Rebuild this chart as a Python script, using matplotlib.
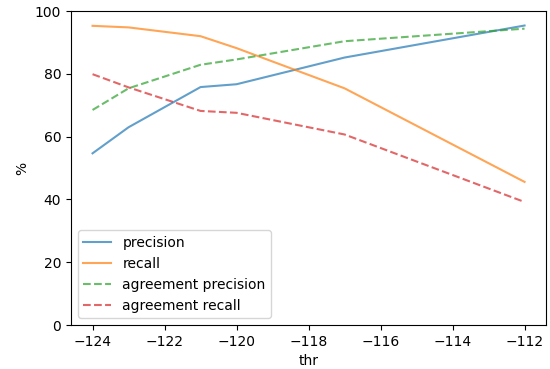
import matplotlib
matplotlib.use("Agg")
import matplotlib.pyplot as plt

thr = [-124, -123, -121, -120, -117, -112]
precision = [54.7, 63.0, 75.8, 76.7, 85.2, 95.4]
recall = [95.3, 94.8, 92.0, 88.2, 75.4, 45.6]
agreement_precision = [68.5, 75.4, 82.9, 84.6, 90.4, 94.4]
agreement_recall = [79.9, 75.7, 68.2, 67.6, 60.7, 39.2]

fig, ax = plt.subplots(figsize=(5.5, 3.69), dpi=100)
ax.plot(thr, precision, color="tab:blue", alpha=0.7, label="precision")
ax.plot(thr, recall, color="tab:orange", alpha=0.7, label="recall")
ax.plot(thr, agreement_precision, "--", color="tab:green", alpha=0.7,
        label="agreement precision")
ax.plot(thr, agreement_recall, "--", color="tab:red", alpha=0.7,
        label="agreement recall")
ax.set_ylim(0, 100)
ax.set_xlabel("thr")
ax.set_ylabel("%")
ax.legend(loc="lower left")
fig.subplots_adjust(left=0.129, right=0.993, top=0.970, bottom=0.119)
fig.savefig("out.png", dpi=100)
